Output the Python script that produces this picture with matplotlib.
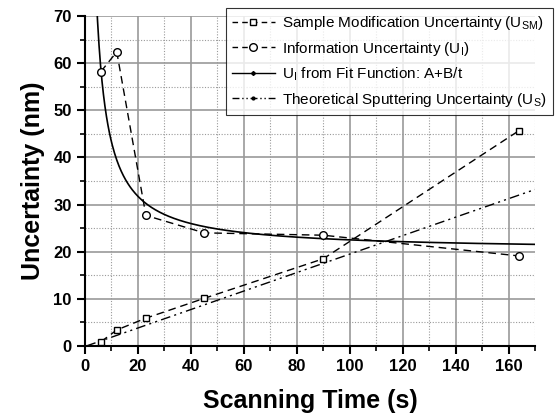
import numpy as np
import matplotlib
matplotlib.use("Agg")
from matplotlib import pyplot as plt
from matplotlib.lines import Line2D
from matplotlib.ticker import MultipleLocator

plt.rcParams['font.family'] = ['Liberation Sans', 'DejaVu Sans']

# scanning times (s)
t_sm = [6, 12, 23, 45, 90, 164]
u_sm = [0.9, 3.4, 5.9, 10.1, 18.5, 45.7]

t_i = [6, 12, 23, 45, 90, 164]
u_i = [58.2, 62.4, 27.7, 24.0, 23.5, 19.1]

# fit U_I = A + B/t
fit_A = 20.2
fit_B = 231.0

# theoretical sputtering line end points
t_s = [0.5, 170]
u_s = [0.0, 33.2]

fig = plt.figure(figsize=(5.57, 4.2), dpi=100)
ax = fig.add_axes([0.1526, 0.1762, 0.8079, 0.7857])

dash = (0, (5.5, 3.5))
dashdotdot = (0, (7, 3, 1.5, 3, 1.5, 3))

ax.plot(t_sm, u_sm, color='black', lw=1, linestyle=dash, marker='s',
        ms=5, mfc='white', mec='black', mew=1, zorder=4)
ax.plot(t_i, u_i, color='black', lw=1, linestyle=dash, marker='o',
        ms=5.5, mfc='white', mec='black', mew=1, zorder=4)
tt = np.linspace(2.5, 170, 600)
ax.plot(tt, fit_A + fit_B / tt, color='black', lw=1.2, zorder=3)
ax.plot(t_s, u_s, color='black', lw=1, linestyle=dashdotdot, zorder=3)

ax.set_xlim(0, 170)
ax.set_ylim(0, 70)
ax.xaxis.set_major_locator(MultipleLocator(20))
ax.xaxis.set_minor_locator(MultipleLocator(10))
ax.yaxis.set_major_locator(MultipleLocator(10))
ax.yaxis.set_minor_locator(MultipleLocator(5))

ax.grid(which='major', color='#9a9a9a', lw=1.2, ls='-')
ax.grid(which='minor', color='#9a9a9a', lw=0.8, ls=(0, (1, 1.5)))
ax.set_axisbelow(True)

for s in ['top', 'right']:
    ax.spines[s].set_visible(False)
for s in ['left', 'bottom']:
    ax.spines[s].set_linewidth(1.5)

ax.tick_params(which='major', direction='out', length=6, width=1.5, labelsize=12)
ax.tick_params(which='minor', direction='out', length=3.5, width=1.2)
for lab in ax.get_xticklabels() + ax.get_yticklabels():
    lab.set_fontweight('bold')

ax.set_xlabel('Scanning Time (s)', fontsize=18, fontweight='bold', labelpad=11)
ax.set_ylabel('Uncertainty (nm)', fontsize=18, fontweight='bold', labelpad=6)

handles = [
    Line2D([], [], color='black', lw=1, linestyle=(0, (4, 3)), marker='s', ms=5,
           mfc='white', mec='black'),
    Line2D([], [], color='black', lw=1, linestyle=(0, (4, 3)), marker='o', ms=5.5,
           mfc='white', mec='black'),
    Line2D([], [], color='black', lw=1, marker='D', ms=2, mfc='black'),
    Line2D([], [], color='black', lw=1, linestyle=(0, (5, 2, 1, 2, 1, 2)), marker='o',
           ms=2, mfc='black'),
]
labels = [
    'Sample Modification Uncertainty (U$_{\\mathregular{SM}}$)',
    'Information Uncertainty (U$_{\\mathregular{I}}$)',
    'U$_{\\mathregular{I}}$ from Fit Function: A+B/t',
    'Theoretical Sputtering Uncertainty (U$_{\\mathregular{S}}$)',
]
leg = fig.legend(handles, labels, loc='upper right', bbox_to_anchor=(0.993, 0.981),
                 fontsize=11, frameon=True, fancybox=False, edgecolor='black',
                 handlelength=2.8, handletextpad=0.5, labelspacing=0.5,
                 borderpad=0.4, borderaxespad=0)
leg.get_frame().set_linewidth(0.8)

fig.savefig('out.png', dpi=100)
